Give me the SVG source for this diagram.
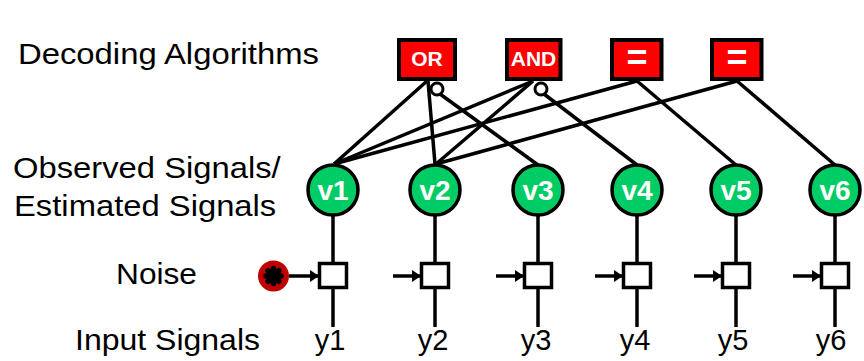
<svg xmlns="http://www.w3.org/2000/svg" width="864" height="361" viewBox="0 0 864 361">
  <style>
    .lbl { font-family: "Liberation Sans", Arial, sans-serif; font-size: 29px; fill: #000; }
    .clbl { font-family: "Liberation Sans", Arial, sans-serif; font-size: 27px; fill: #000; text-anchor: middle; }
    .gate rect { fill: #FF0000; stroke: #000; stroke-width: 4; }
    .gate text { font-family: "Liberation Sans", Arial, sans-serif; font-weight: bold; font-size: 21px; fill: #fff; text-anchor: middle; }
    .gate text.eq { font-size: 36px; }
    .var circle { fill: #00CC66; stroke: #000; stroke-width: 3.5; }
    .var text { font-family: "Liberation Sans", Arial, sans-serif; font-weight: bold; font-size: 28px; fill: #fff; text-anchor: middle; }
    .edge { stroke: #000; stroke-width: 3.5; fill: none; }
    .bubble { fill: #fff; stroke: #000; stroke-width: 3; }
    .sum { fill: #fff; stroke: #000; stroke-width: 3.5; }
    .ylbl { font-family: "Liberation Sans", Arial, sans-serif; font-size: 29px; fill: #000; text-anchor: middle; }
  </style>
  <defs>
    <marker id="arrow" markerWidth="10" markerHeight="12" refX="9" refY="6" orient="auto" markerUnits="userSpaceOnUse">
      <path d="M0,0 L9,6 L0,12 Z" fill="#000"/>
    </marker>
  </defs>

  <rect width="864" height="361" fill="#fff"/>

  <!-- row labels -->
  <g id="row-labels">
    <text class="lbl" x="18" y="64" textLength="301" lengthAdjust="spacingAndGlyphs">Decoding Algorithms</text>
    <text class="lbl" transform="translate(13,0) scale(1.13,1)"><tspan x="0" y="178">Observed Signals/</tspan><tspan x="0.9" y="216">Estimated Signals</tspan></text>
    <text class="lbl" x="116" y="284" textLength="81" lengthAdjust="spacingAndGlyphs">Noise</text>
    <text class="lbl" x="75" y="350" textLength="185" lengthAdjust="spacingAndGlyphs">Input Signals</text>
  </g>

  <!-- connectors -->
  <g id="connectors">
    <!-- c1 -->
    <line class="edge" x1="427" y1="81" x2="334" y2="164"/>
    <line class="edge" x1="428" y1="81" x2="435" y2="164"/>
    <line class="edge" x1="440" y1="94" x2="538" y2="165"/>
    <!-- c2 -->
    <line class="edge" x1="533" y1="81" x2="334" y2="164"/>
    <line class="edge" x1="533" y1="81" x2="436" y2="164"/>
    <line class="edge" x1="544" y1="94" x2="637" y2="165"/>
    <!-- c3 -->
    <line class="edge" x1="637" y1="81" x2="334" y2="164"/>
    <line class="edge" x1="637" y1="81" x2="736" y2="165"/>
    <!-- c4 -->
    <line class="edge" x1="737" y1="81" x2="436" y2="164"/>
    <line class="edge" x1="737" y1="81" x2="835" y2="165"/>
    <!-- negation bubbles -->
    <circle class="bubble" cx="437" cy="89" r="6"/>
    <circle class="bubble" cx="541" cy="89" r="6"/>

    <!-- vertical signal lines -->
    <line class="edge" x1="333" y1="215" x2="333" y2="327"/>
    <line class="edge" x1="435" y1="215" x2="435" y2="327"/>
    <line class="edge" x1="538" y1="215" x2="538" y2="327"/>
    <line class="edge" x1="637" y1="215" x2="637" y2="327"/>
    <line class="edge" x1="736" y1="215" x2="736" y2="327"/>
    <line class="edge" x1="835" y1="215" x2="835" y2="327"/>

    <!-- noise arrows -->
    <line class="edge" x1="289" y1="276" x2="319" y2="276" marker-end="url(#arrow)"/>
    <line class="edge" x1="393" y1="276" x2="421" y2="276" marker-end="url(#arrow)"/>
    <line class="edge" x1="496" y1="276" x2="524" y2="276" marker-end="url(#arrow)"/>
    <line class="edge" x1="595" y1="276" x2="623" y2="276" marker-end="url(#arrow)"/>
    <line class="edge" x1="694" y1="276" x2="722" y2="276" marker-end="url(#arrow)"/>
    <line class="edge" x1="793" y1="276" x2="821" y2="276" marker-end="url(#arrow)"/>
  </g>

  <!-- decoding gates -->
  <g id="c1" class="gate">
    <text class="clbl" x="427" y="28" textLength="31" lengthAdjust="spacingAndGlyphs">c1</text>
    <rect x="399" y="40" width="56" height="39"/>
    <text x="427" y="66">OR</text>
  </g>
  <g id="c2" class="gate">
    <text class="clbl" x="532" y="28" textLength="31" lengthAdjust="spacingAndGlyphs">c2</text>
    <rect x="507" y="40" width="53.5" height="39"/>
    <text x="533.5" y="66">AND</text>
  </g>
  <g id="c3" class="gate">
    <text class="clbl" x="636" y="28" textLength="31" lengthAdjust="spacingAndGlyphs">c3</text>
    <rect x="612" y="40" width="49.5" height="39"/>
    <text class="eq" x="637" y="70">=</text>
  </g>
  <g id="c4" class="gate">
    <text class="clbl" x="736" y="28" textLength="31" lengthAdjust="spacingAndGlyphs">c4</text>
    <rect x="712" y="40" width="49.5" height="39"/>
    <text class="eq" x="737" y="70">=</text>
  </g>

  <!-- signal variables -->
  <g id="v1" class="var"><circle cx="333" cy="190" r="25"/><text x="333" y="200">v1</text></g>
  <g id="v2" class="var"><circle cx="435" cy="190" r="25"/><text x="435" y="200">v2</text></g>
  <g id="v3" class="var"><circle cx="538" cy="190" r="25"/><text x="538" y="200">v3</text></g>
  <g id="v4" class="var"><circle cx="637" cy="190" r="25"/><text x="637" y="200">v4</text></g>
  <g id="v5" class="var"><circle cx="736" cy="190" r="25"/><text x="736" y="200">v5</text></g>
  <g id="v6" class="var"><circle cx="835" cy="190" r="25"/><text x="835" y="200">v6</text></g>

  <!-- noise source -->
  <g id="noise">
    <circle cx="273.5" cy="276" r="15.5" fill="#C00000"/>
    <g stroke="#000" stroke-width="5.5" stroke-linecap="round">
      <line x1="266" y1="276" x2="281" y2="276"/>
      <line x1="273.5" y1="268.5" x2="273.5" y2="283.5"/>
      <line x1="268.2" y1="270.7" x2="278.8" y2="281.3"/>
      <line x1="268.2" y1="281.3" x2="278.8" y2="270.7"/>
    </g>
  </g>

  <!-- summing nodes -->
  <g id="s1"><rect class="sum" x="319.5" y="263.5" width="27" height="24"/></g>
  <g id="s2"><rect class="sum" x="421.5" y="263.5" width="27" height="24"/></g>
  <g id="s3"><rect class="sum" x="524.5" y="263.5" width="27" height="24"/></g>
  <g id="s4"><rect class="sum" x="623.5" y="263.5" width="27" height="24"/></g>
  <g id="s5"><rect class="sum" x="722.5" y="263.5" width="27" height="24"/></g>
  <g id="s6"><rect class="sum" x="821.5" y="263.5" width="27" height="24"/></g>

  <!-- input signals -->
  <g id="inputs">
    <text class="ylbl" x="330" y="350">y1</text>
    <text class="ylbl" x="433" y="350">y2</text>
    <text class="ylbl" x="536" y="350">y3</text>
    <text class="ylbl" x="635" y="350">y4</text>
    <text class="ylbl" x="733" y="350">y5</text>
    <text class="ylbl" x="831" y="350">y6</text>
  </g>
</svg>
